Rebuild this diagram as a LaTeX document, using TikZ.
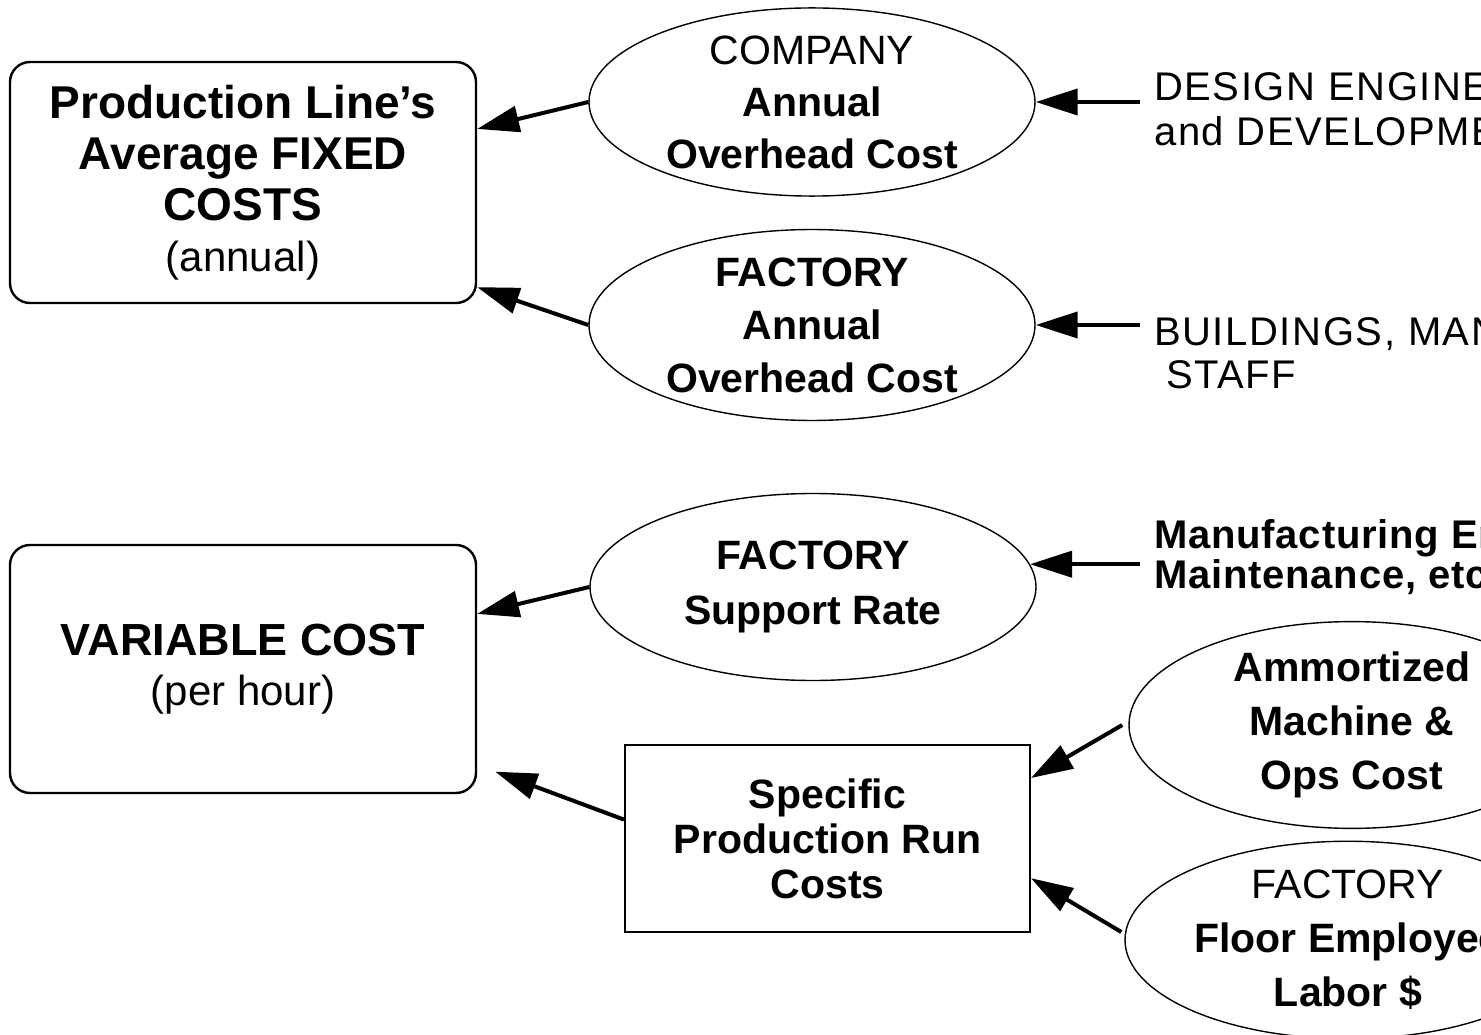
\documentclass[tikz,border=0pt]{standalone}
\usepackage{fontspec}
\setmainfont{Liberation Sans}
\usetikzlibrary{arrows.meta,calc,shapes.geometric}
\begin{document}
\begin{tikzpicture}[x=1pt,y=-1pt,
  rbox/.style={draw,line width=2.4pt,rounded corners=20pt,minimum width=466pt,align=center,inner sep=0pt},
  ell/.style={draw,ellipse,line width=1.4pt,minimum width=446pt,minimum height=187pt,inner sep=0pt,align=center},
  arr/.style={line width=4pt,-{Triangle[length=42pt,width=26pt]}},
  lbl/.style={anchor=west,align=left,inner sep=0pt,inner xsep=14pt}
]
\useasboundingbox[fill=white] (0,0) rectangle (1481,1035);

% left boxes
\node[rbox,minimum height=241pt,font=\fontsize{46}{51}\selectfont] (b1) at (243,182.5)
  {\textbf{Production Line’s}\\\textbf{Average FIXED}\\\textbf{COSTS}\\{\fontsize{42}{51}\selectfont (annual)}};
\node[rbox,minimum height=248pt,font=\fontsize{45}{50}\selectfont] (b2) at (243,669)
  {\textbf{VARIABLE COST}\\{\fontsize{42}{50}\selectfont (per hour)}};

% middle column
\node[ell,font=\fontsize{41}{52}\selectfont] (e1) at (812,102)
  {COMPANY\\\textbf{Annual}\\\textbf{Overhead Cost}};
\node[ell,font=\fontsize{41}{53}\selectfont\bfseries] (e2) at (812,325)
  {FACTORY\\Annual\\Overhead Cost};
\node[ell,font=\fontsize{41}{55}\selectfont\bfseries] (e3) at (813,587)
  {FACTORY\\Support Rate};
\node[draw,line width=2pt,minimum width=405pt,minimum height=187pt,inner sep=0pt,align=center,
      font=\fontsize{41}{45}\selectfont\bfseries] (r) at (827.5,838.5)
  {Specific\\Production Run\\Costs};

% right column
\node[lbl,font=\fontsize{40}{45}\selectfont\addfontfeatures{LetterSpace=4}] (t1) at (1140,109)
  {DESIGN ENGINEERING\\and DEVELOPMENT};
\node[lbl,font=\fontsize{40}{43}\selectfont\addfontfeatures{LetterSpace=4}] (t2) at (1140,353)
  {BUILDINGS, MANAGEMENT\\\hspace*{12pt}STAFF};
\node[lbl,font=\fontsize{40}{40}\selectfont\bfseries\addfontfeatures{LetterSpace=2}] (t3) at (1140,557)
  {Manufacturing Engineering,\\Maintenance, etc.};
\node[ell,font=\fontsize{41}{54}\selectfont\bfseries] (e4) at (1352,725)
  {Ammortized\\Machine \&\\Ops Cost};
\node[ell,font=\fontsize{41}{54}\selectfont] (e5) at (1348,940)
  {FACTORY\\\textbf{Floor Employee}\\\textbf{Labor \$}};

% connectors
\draw[arr] (e1.west) -- ($(b1.north east)!0.28!(b1.south east)$);
\draw[arr] (e2.west) -- ($(b1.north east)!0.93!(b1.south east)$);
\draw[arr] (e1.east -| t1.west) -- (e1.east);
\draw[arr] (e2.east -| t2.west) -- (e2.east);
\draw[arr] (e3.6 -| t3.west) -- (e3.6);
\draw[arr] (e3.west) -- ($(b2.north east)!0.28!(b2.south east)$);
\draw[arr] ($(r.north west)!0.4!(r.south west)$) -- ($(b2.north east)!0.91!(b2.south east)+(18,0)$);
\draw[arr] ([xshift=-6pt]e4.west) -- ($(r.north east)!0.18!(r.south east)$);
\draw[arr] ([xshift=-3pt,yshift=8pt]e5.west) -- ($(r.north east)!0.71!(r.south east)$);
\end{tikzpicture}
\end{document}
